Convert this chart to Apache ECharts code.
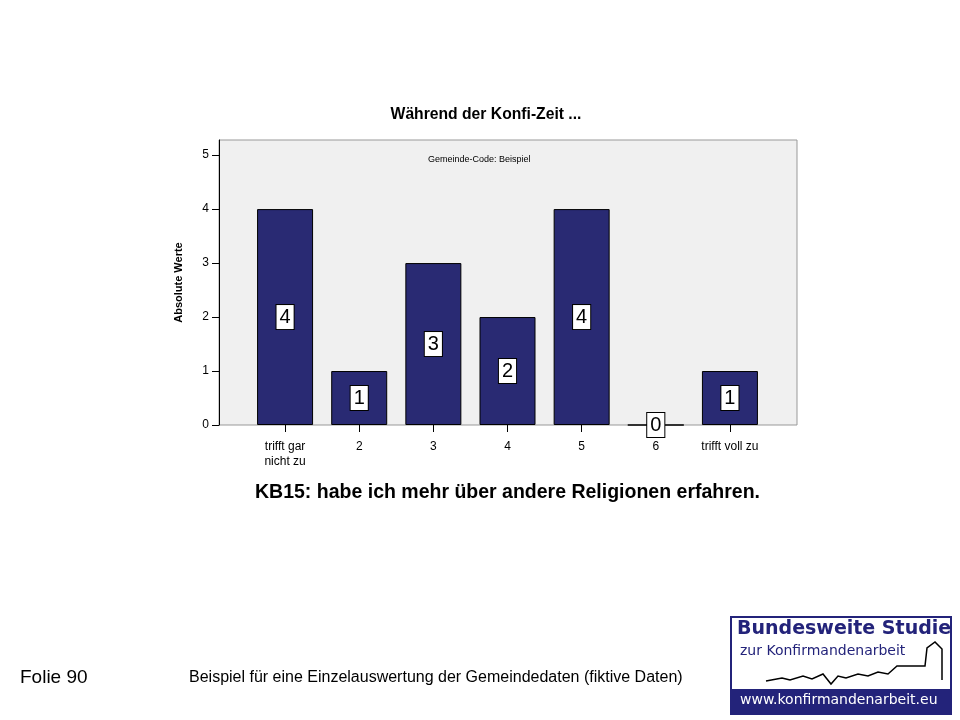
<!DOCTYPE html>
<html><head><meta charset="utf-8">
<script src="https://cdn.jsdelivr.net/npm/echarts@6/dist/echarts.min.js"></script>
<style>html,body{margin:0;background:#fff}#c{width:960px;height:720px}</style>
</head><body><div id="c"></div>
<script>
const categories = ['trifft gar\nnicht zu','2','3','4','5','6','trifft voll zu'];
const values = [4,1,3,2,4,0,1];
const yTicks = [0,1,2,3,4,5];
const chart = echarts.init(document.getElementById('c'));
const F = 'Arial, "Liberation Sans", sans-serif';
const yMax = 5.28;
chart.setOption({
  animation:false,
  title:{text:'Während der Konfi-Zeit ...',left:481,top:102,textAlign:'center',
    textStyle:{fontFamily:F,fontSize:15.7,fontWeight:'bold',color:'#000'}},
  grid:[
    {left:219,right:163,top:140,bottom:295,show:true,backgroundColor:'#f0f0f0',borderColor:'#999',borderWidth:1},
    {left:248,right:193,top:140,bottom:295}
  ],
  xAxis:[
    {gridIndex:0,type:'value',show:false,min:0,max:1},
    {gridIndex:1,type:'category',data:categories,
     axisLine:{show:false},axisTick:{show:true,alignWithLabel:true,interval:0,length:7,lineStyle:{color:'#000'}},
     axisLabel:{interval:0,fontFamily:F,fontSize:12,color:'#000',margin:14,lineHeight:15},
     name:'KB15: habe ich mehr über andere Religionen erfahren.',nameLocation:'middle',nameGap:58,
     nameTextStyle:{fontFamily:F,fontSize:19.5,fontWeight:'bold',color:'#000'}}
  ],
  yAxis:[
    {gridIndex:0,type:'value',min:0,max:yMax,interval:1,
     axisLine:{show:true,lineStyle:{color:'#000'}},
     axisTick:{show:true,length:7,lineStyle:{color:'#000'},customValues:yTicks},
     splitLine:{show:false},
     axisLabel:{fontFamily:F,fontSize:12,color:'#000',margin:10,customValues:yTicks},
     name:'Absolute Werte',nameLocation:'middle',nameGap:35,
     nameTextStyle:{fontFamily:F,fontSize:11,fontWeight:'bold',color:'#000'}},
    {gridIndex:1,type:'value',min:0,max:yMax,show:false}
  ],
  series:[{
    type:'bar',xAxisIndex:1,yAxisIndex:1,data:values,barWidth:56,
    itemStyle:{color:'#292a73',borderColor:'#000',borderWidth:1},
    label:{show:true,position:'inside',fontFamily:F,fontSize:20,color:'#000',
      backgroundColor:'#fff',borderColor:'#000',borderWidth:1,padding:[3,3,1,3]}
  }],
  graphic:[
    {type:'text',left:428,top:155,style:{text:'Gemeinde-Code: Beispiel',font:'9px '+F,fill:'#000'}},
    {type:'text',left:20,top:668,style:{text:'Folie 90',font:'19px '+F,fill:'#000'}},
    {type:'text',left:189,top:670,style:{text:'Beispiel für eine Einzelauswertung der Gemeindedaten (fiktive Daten)',font:'16px '+F,fill:'#000'}},
    {type:'rect',shape:{x:731,y:617,width:220,height:97},style:{fill:'#fff',stroke:'#23237a',lineWidth:2}},
    {type:'rect',shape:{x:731,y:689,width:220,height:25},style:{fill:'#23237a'}},
    {type:'text',left:737,top:620,style:{text:'Bundesweite Studie',font:'bold 19px "DejaVu Sans", sans-serif',fill:'#23237a'}},
    {type:'text',left:740,top:644,style:{text:'zur Konfirmandenarbeit',font:'14px "DejaVu Sans", sans-serif',fill:'#23237a'}},
    {type:'text',left:740,top:693,style:{text:'www.konfirmandenarbeit.eu',font:'14px "DejaVu Sans", sans-serif',fill:'#fff'}},
    {type:'polyline',shape:{points:[[766,681],[782,678],[790,680],[803,676],[812,679],[823,674],[831,684],[838,676],[846,678],[858,674],[868,676],[878,672],[888,674],[897,666],[925,666],[927,648],[935,642],[942,649],[942,680]]},
     style:{stroke:'#000',lineWidth:1.5,fill:null}}
  ]
});
</script></body></html>
